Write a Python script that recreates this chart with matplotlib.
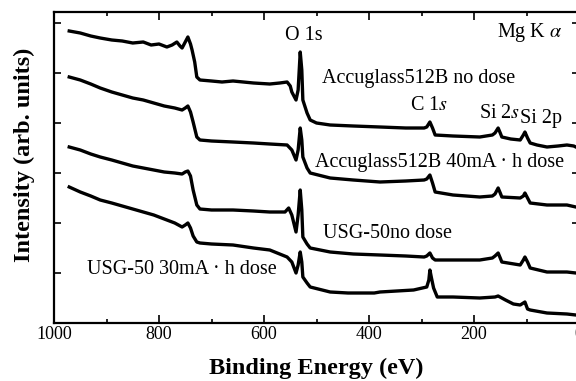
import numpy as np
import matplotlib
matplotlib.use("Agg")
import matplotlib.pyplot as plt
from matplotlib.ticker import MultipleLocator

# binding energy (eV) and intensity (arb. units)
be_acc0 = [971, 950, 930, 912, 890, 870, 850, 830, 815, 800, 785, 775, 766, 760, 756, 750,
           745, 740, 737, 732, 728, 722, 700, 680, 659, 620, 589, 570, 556, 550, 547, 539,
           535, 531, 528, 526, 518, 512, 500, 474, 430, 379, 330, 295, 290, 284, 279, 274,
           240, 189, 165, 160, 154, 150, 147, 130, 112, 106, 103, 98, 93, 80, 61, 40, 23, 10, 6]
int_acc0 = [292, 290, 287, 285, 283, 282, 280, 281, 278, 279, 276, 278, 281, 277, 275, 281,
            286, 279, 273, 261, 246, 243, 242, 241, 242, 240, 239, 240, 241, 237, 231, 223,
            233, 271, 253, 223, 210, 203, 200, 198, 197, 196, 195, 195, 196, 201, 195, 188,
            187, 186, 188, 190, 195, 190, 186, 184, 183, 188, 191, 185, 180, 178, 176, 177, 178, 177, 176]

be_acc40 = [971, 950, 930, 912, 890, 870, 850, 830, 810, 790, 770, 756, 750, 745, 740, 735,
            728, 722, 700, 659, 620, 589, 556, 547, 539, 535, 531, 528, 526, 518, 512, 474,
            430, 379, 330, 295, 290, 284, 279, 274, 240, 189, 165, 160, 154, 150, 147, 112,
            106, 103, 98, 93, 61, 23, 6]
int_acc40 = [246, 243, 239, 235, 231, 228, 225, 223, 220, 217, 215, 213, 215, 217, 211, 201,
             186, 183, 182, 181, 180, 179, 178, 173, 163, 173, 195, 183, 166, 155, 150, 145,
             143, 141, 142, 143, 144, 148, 140, 131, 128, 126, 127, 129, 135, 130, 126, 125,
             127, 130, 125, 120, 118, 118, 116]

be_usg0 = [971, 950, 930, 912, 890, 870, 850, 830, 810, 790, 770, 756, 750, 745, 740, 735,
           728, 722, 700, 659, 620, 589, 560, 553, 547, 539, 535, 531, 528, 526, 518, 512,
           474, 430, 379, 330, 295, 290, 284, 279, 274, 240, 189, 165, 160, 154, 150, 147,
           112, 106, 103, 98, 93, 61, 23, 6]
int_usg0 = [176, 173, 169, 166, 163, 160, 157, 155, 153, 151, 150, 149, 151, 152, 147, 133,
            118, 114, 113, 113, 112, 111, 111, 115, 108, 91, 108, 133, 113, 86, 79, 75,
            71, 69, 68, 67, 66, 67, 70, 65, 63, 63, 63, 65, 67, 70, 65, 61,
            58, 63, 66, 61, 55, 51, 51, 50]

be_usg30 = [971, 950, 930, 912, 890, 870, 850, 830, 810, 790, 770, 756, 750, 745, 740, 735,
            728, 722, 700, 659, 620, 589, 556, 547, 539, 535, 531, 528, 526, 518, 512, 474,
            440, 390, 379, 315, 290, 286, 284, 281, 277, 270, 240, 189, 160, 154, 140, 125,
            112, 106, 103, 98, 93, 61, 23, 6]
int_usg30 = [136, 131, 127, 123, 120, 117, 114, 111, 108, 104, 100, 96, 98, 100, 95, 87,
             81, 80, 79, 78, 75, 73, 66, 61, 50, 58, 71, 61, 46, 40, 36, 31,
             30, 30, 31, 33, 36, 43, 53, 45, 35, 26, 26, 25, 26, 27, 23, 19,
             18, 20, 21, 14, 13, 10, 9, 8]

plt.rcParams["font.family"] = ["Liberation Serif", "DejaVu Serif"]
plt.rcParams["mathtext.fontset"] = "stix"

fig = plt.figure(figsize=(5.76, 3.81), dpi=100)
ax = fig.add_axes([54 / 576, 58 / 381, 525 / 576, 311 / 381])

for be, inten in [(be_acc0, int_acc0), (be_acc40, int_acc40),
                  (be_usg0, int_usg0), (be_usg30, int_usg30)]:
    ax.plot(be, inten, color="black", lw=2.4, solid_joinstyle="round")

ax.set_xlim(1000, 0)
ax.set_ylim(0, 311)
ax.xaxis.set_major_locator(MultipleLocator(200))
ax.xaxis.set_minor_locator(MultipleLocator(100))
ax.yaxis.set_major_locator(MultipleLocator(50))
ax.set_yticklabels([])
ax.tick_params(which="both", direction="in", top=True, right=True, width=1.2)
ax.tick_params(which="major", axis="x", length=6, labelsize=13, pad=2)
ax.tick_params(which="minor", axis="x", length=3)
ax.tick_params(which="major", axis="y", length=5)
for sp in ax.spines.values():
    sp.set_linewidth(1.6)

ax.set_xlabel("Binding Energy (eV)", fontsize=17.5, fontweight="bold", labelpad=11)
ax.set_ylabel("Intensity (arb. units)", fontsize=17.5, fontweight="bold")
ax.yaxis.set_label_coords(-0.036, 0.54)

fs = 14.5
ax.text(560, 288, "O 1s", fontsize=fs, va="center")
ax.text(156, 290, "Mg K $\\alpha$", fontsize=fs, va="center")
ax.text(490, 245, "Accuglass512B no dose", fontsize=fs, va="center")
ax.text(322, 218, "C 1$s$", fontsize=fs, va="center")
ax.text(190, 210, "Si 2$s$", fontsize=fs, va="center")
ax.text(112, 205, "Si 2p", fontsize=fs, va="center")
ax.text(503, 161, "Accuglass512B 40mA · h dose", fontsize=fs, va="center")
ax.text(488, 90, "USG-50no dose", fontsize=fs, va="center")
ax.text(937, 53, "USG-50 30mA · h dose", fontsize=fs, va="center")

fig.savefig("out.png", dpi=100)
